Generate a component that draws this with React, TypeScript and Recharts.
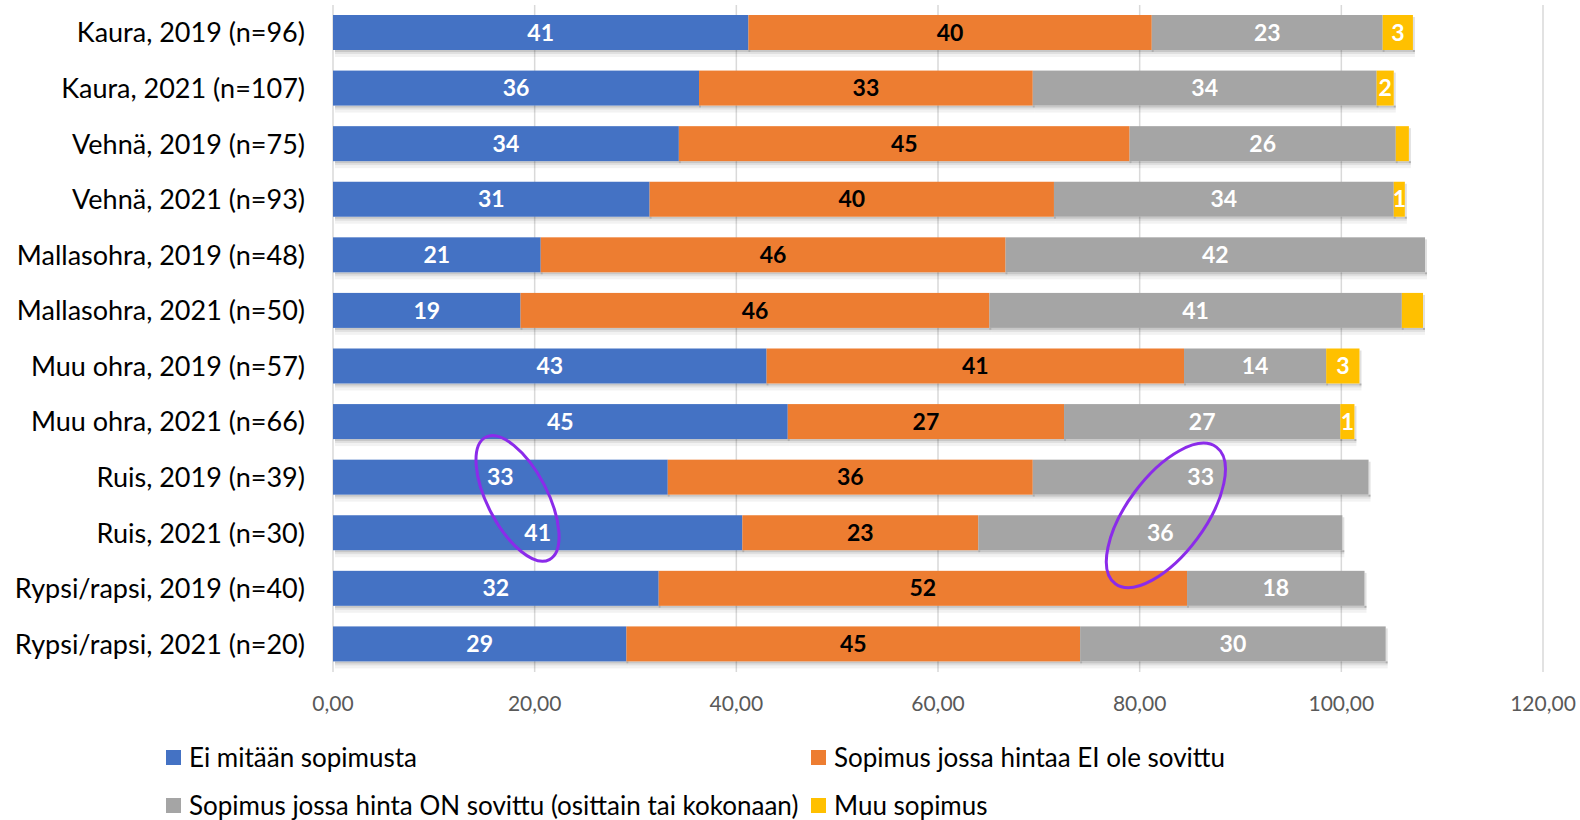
import React from 'react'
import {
  BarChart,
  Bar,
  XAxis,
  YAxis,
  CartesianGrid,
  LabelList,
  ReferenceDot,
} from 'recharts'

// Rivit ylhäältä alas
const kategoriat = [
  'Kaura, 2019 (n=96)',
  'Kaura, 2021 (n=107)',
  'Vehnä, 2019 (n=75)',
  'Vehnä, 2021 (n=93)',
  'Mallasohra, 2019 (n=48)',
  'Mallasohra, 2021 (n=50)',
  'Muu ohra, 2019 (n=57)',
  'Muu ohra, 2021 (n=66)',
  'Ruis, 2019 (n=39)',
  'Ruis, 2021 (n=30)',
  'Rypsi/rapsi, 2019 (n=40)',
  'Rypsi/rapsi, 2021 (n=20)',
]

const eiSopimusta = [41.2, 36.3, 34.3, 31.4, 20.6, 18.6, 43.0, 45.1, 33.2, 40.6, 32.3, 29.1]
const hintaEiSovittu = [40.0, 33.1, 44.7, 40.1, 46.1, 46.5, 41.4, 27.4, 36.2, 23.4, 52.4, 45.0]
const hintaOnSovittu = [22.9, 34.1, 26.4, 33.7, 41.6, 40.9, 14.1, 27.4, 33.3, 36.1, 17.6, 30.3]
const muuSopimus = [3.0, 1.7, 1.3, 1.1, 0, 2.1, 3.3, 1.4, 0, 0, 0, 0]

// Palkkien päällä näkyvät luvut
const eiLabels = ['41', '36', '34', '31', '21', '19', '43', '45', '33', '41', '32', '29']
const hintaEiLabels = ['40', '33', '45', '40', '46', '46', '41', '27', '36', '23', '52', '45']
const hintaOnLabels = ['23', '34', '26', '34', '42', '41', '14', '27', '33', '36', '18', '30']
const muuLabels = ['3', '2', '', '1', '', '', '3', '1', '', '', '', '']

const xTicks = [0, 20, 40, 60, 80, 100, 120]

// Violetit soikiot: x = arvo, rivi = kategoria, dy = siirto rivin keskeltä alaspäin
const soikiot = [
  { x: 18.3, rivi: 'Ruis, 2019 (n=39)', dy: 21, rx: 30, ry: 69, kulma: -27.5 },
  { x: 82.6, rivi: 'Ruis, 2019 (n=39)', dy: 38, rx: 39, ry: 85, kulma: 36.5 },
]

const sarjat = [
  { key: 'ei', name: 'Ei mitään sopimusta', color: '#4472C4', text: '#FFFFFF' },
  { key: 'hintaEi', name: 'Sopimus jossa hintaa EI ole sovittu', color: '#ED7D31', text: '#000000' },
  { key: 'hintaOn', name: 'Sopimus jossa hinta ON sovittu (osittain tai kokonaan)', color: '#A5A5A5', text: '#FFFFFF' },
  { key: 'muu', name: 'Muu sopimus', color: '#FFC000', text: '#FFFFFF' },
]

const data = kategoriat.map((nimi, i) => ({
  nimi,
  ei: eiSopimusta[i],
  hintaEi: hintaEiSovittu[i],
  hintaOn: hintaOnSovittu[i],
  muu: muuSopimus[i],
  eiLabel: eiLabels[i],
  hintaEiLabel: hintaEiLabels[i],
  hintaOnLabel: hintaOnLabels[i],
  muuLabel: muuLabels[i],
}))

const FONT = 'Lato, "Open Sans", sans-serif'

const VarjoPalkki = (props: any) => {
  const { x, y, width, height, fill } = props
  if (!width || width <= 0) return null
  return (
    <g>
      <rect x={x + 2} y={y + height} width={width} height={2} fill="#000" fillOpacity={0.22} />
      <rect x={x + 2} y={y + height + 2} width={width} height={2} fill="#000" fillOpacity={0.12} />
      <rect x={x + 2} y={y + height + 4} width={width} height={3} fill="#000" fillOpacity={0.05} />
      <rect x={x + width} y={y + 2} width={2} height={height} fill="#000" fillOpacity={0.12} />
      <rect x={x} y={y} width={width} height={height} fill={fill} />
    </g>
  )
}

const Soikio = (s: (typeof soikiot)[number]) => (props: any) => {
  const { cx, cy } = props
  if (cx == null || cy == null) return null
  const y = cy + s.dy
  return (
    <ellipse
      cx={cx}
      cy={y}
      rx={s.rx}
      ry={s.ry}
      fill="none"
      stroke="#8B2BEA"
      strokeWidth={3}
      transform={`rotate(${s.kulma} ${cx} ${y})`}
    />
  )
}

export default function App() {
  return (
    <div
      style={{
        position: 'absolute',
        left: 0,
        top: 0,
        width: 1580,
        height: 820,
        background: '#fff',
        fontFamily: FONT,
      }}
    >
      <BarChart
        width={1580}
        height={741}
        data={data}
        layout="vertical"
        margin={{ top: 5, right: 37, left: 0, bottom: 0 }}
        barSize={35}
        style={{ fontFamily: FONT }}
      >
        <CartesianGrid horizontal={false} stroke="#D9D9D9" strokeWidth={1.5} />
        <XAxis
          type="number"
          domain={[0, 120]}
          ticks={xTicks}
          interval={0}
          height={69}
          tickSize={0}
          tickMargin={24}
          axisLine={false}
          tickLine={false}
          tickFormatter={(v: number) => v.toFixed(2).replace('.', ',')}
          tick={{ fill: '#595959', fontSize: 21 }}
        />
        <YAxis
          type="category"
          dataKey="nimi"
          width={333}
          tickSize={0}
          tickMargin={28}
          axisLine={false}
          tickLine={false}
          interval={0}
          tick={{ fill: '#000', fontSize: 27 }}
        />
        {sarjat.map((s) => (
          <Bar
            key={s.key}
            dataKey={s.key}
            name={s.name}
            stackId="a"
            fill={s.color}
            shape={VarjoPalkki}
            isAnimationActive={false}
          >
            <LabelList
              dataKey={`${s.key}Label`}
              position="center"
              fill={s.text}
              fontSize={23}
              fontWeight="bold"
            />
          </Bar>
        ))}
        {soikiot.map((s, i) => (
          <ReferenceDot
            key={i}
            x={s.x}
            y={s.rivi}
            r={1}
            ifOverflow="visible"
            shape={Soikio(s)}
          />
        ))}
      </BarChart>
      <div
        style={{
          position: 'absolute',
          left: 166,
          top: 740,
          display: 'grid',
          gridTemplateColumns: '645px auto',
          rowGap: 14,
          fontSize: 26,
          color: '#000',
          lineHeight: '34px',
        }}
      >
        {sarjat.map((s) => (
          <div key={s.key} style={{ display: 'flex', alignItems: 'center', whiteSpace: 'nowrap' }}>
            <span
              style={{
                display: 'inline-block',
                width: 15,
                height: 15,
                background: s.color,
                marginRight: 8,
              }}
            />
            <span>{s.name}</span>
          </div>
        ))}
      </div>
    </div>
  )
}
